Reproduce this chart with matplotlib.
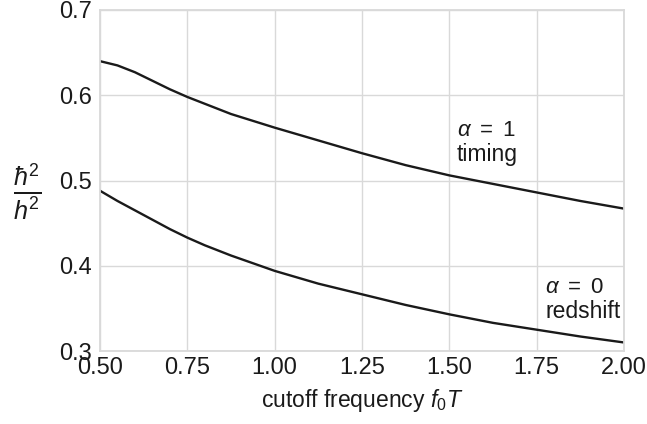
import matplotlib
matplotlib.use("Agg")
import matplotlib.pyplot as plt

plt.rcParams['font.family'] = ['Liberation Sans', 'DejaVu Sans']
plt.rcParams['mathtext.fontset'] = 'custom'
plt.rcParams['mathtext.rm'] = 'Liberation Sans'
plt.rcParams['mathtext.it'] = 'Liberation Sans:italic'
plt.rcParams['mathtext.bf'] = 'Liberation Sans:bold'

f0T = [0.5, 0.55, 0.6, 0.65, 0.7, 0.75, 0.8, 0.875, 1.0, 1.125, 1.25, 1.375,
       1.5, 1.625, 1.75, 1.875, 2.0]
timing = [0.640, 0.635, 0.627, 0.617, 0.607, 0.598, 0.590, 0.578, 0.562, 0.547,
          0.532, 0.518, 0.506, 0.496, 0.486, 0.476, 0.467]
redshift = [0.488, 0.476, 0.465, 0.454, 0.443, 0.433, 0.424, 0.412, 0.394, 0.379,
            0.3665, 0.354, 0.343, 0.333, 0.325, 0.317, 0.310]
xticks = [0.5, 0.75, 1.0, 1.25, 1.5, 1.75, 2.0]
yticks = [0.3, 0.4, 0.5, 0.6, 0.7]

fig = plt.figure(figsize=(6.47, 4.24), dpi=100)
ax = fig.add_axes([100/647, 1-351/424, 524/647, 341/424])

grid_c = '#d9d9d9'
ink = '#1a1a1a'
ax.plot(f0T, timing, color=ink, lw=1.7, solid_joinstyle='round')
ax.plot(f0T, redshift, color=ink, lw=1.7, solid_joinstyle='round')
ax.set_xlim(0.5, 2.0)
ax.set_ylim(0.3, 0.7)
ax.set_xticks(xticks)
ax.set_xticklabels([f"{v:.2f}" for v in xticks])
ax.set_yticks(yticks)
ax.set_yticklabels([f"{v:.1f}" for v in yticks])
ax.grid(True, color=grid_c, lw=1)
ax.set_axisbelow(True)
for s in ax.spines.values():
    s.set_color(grid_c)
    s.set_linewidth(1.3)
ax.tick_params(length=0, labelsize=17, colors=ink)
ax.tick_params(axis='x', pad=4)
ax.tick_params(axis='y', pad=6)

ax.set_xlabel(r'cutoff frequency $f_0T$', fontsize=16.5, color=ink, labelpad=6)
ax.set_ylabel(r'$\frac{\hbar^2}{h^2}$', fontsize=26, rotation=0, color=ink, va='center', ha='center')
ax.yaxis.set_label_coords(-0.139, 0.468)

ax.text(1.522, 0.559, r'$\alpha\ =\ 1$', fontsize=16, color=ink, va='center')
ax.text(1.522, 0.530, 'timing', fontsize=16.5, color=ink, va='center')
ax.text(1.774, 0.375, r'$\alpha\ =\ 0$', fontsize=16, color=ink, va='center')
ax.text(1.774, 0.346, 'redshift', fontsize=16.5, color=ink, va='center')

fig.savefig('out.png', dpi=100)
